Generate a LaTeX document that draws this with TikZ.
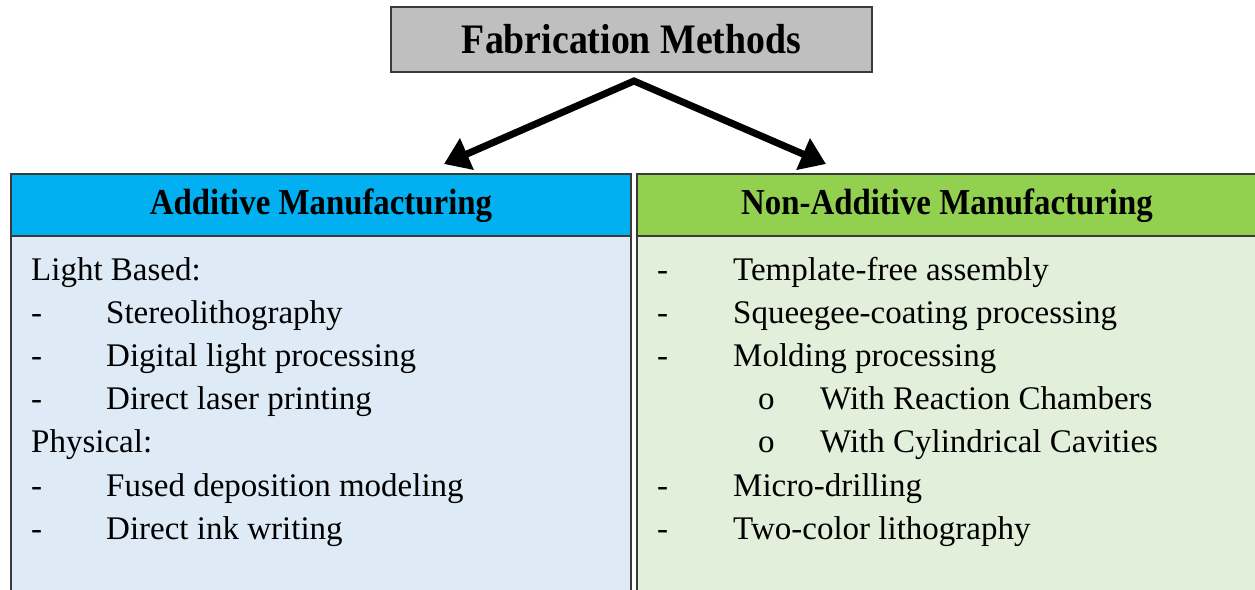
\documentclass[tikz,border=0pt]{standalone}
\usepackage{fontspec}
\setmainfont{Liberation Serif}
\newfontfamily\condserif[FakeStretch=0.9]{Liberation Serif}
\usetikzlibrary{arrows.meta}
\definecolor{topgray}{HTML}{BFBFBF}
\definecolor{hblue}{HTML}{00B0F0}
\definecolor{bblue}{HTML}{DEEAF6}
\definecolor{hgreen}{HTML}{92D050}
\definecolor{bgreen}{HTML}{E2EFDA}
\definecolor{edge}{HTML}{3A3A3A}
\tikzset{
  boxline/.style={draw=edge, line width=1.2pt},
  item/.style={anchor=base west, inner sep=0pt, font=\fontsize{33}{33}\selectfont},
  head/.style={inner sep=0pt, font=\condserif\fontsize{36.5}{36}\selectfont\bfseries},
  bigarrow/.style={line width=7pt, line join=miter, {Triangle[length=25pt,width=33pt]}-{Triangle[length=25pt,width=33pt]}}
}
\begin{document}
\begin{tikzpicture}[x=1pt,y=-1pt]
\useasboundingbox (0,0) rectangle (1255,589);
\clip (0,0) rectangle (1255,589);
% top box
\node[boxline, fill=topgray, minimum width=481pt, minimum height=65pt, inner sep=0pt,
      font=\condserif\fontsize{42}{42}\selectfont\bfseries] (top) at (631.5,39.5) {Fabrication Methods};
% left column
\filldraw[boxline, fill=bblue] (11,236) rectangle (631,620);
\filldraw[boxline, fill=hblue] (11,174) rectangle (631,236);
\node[head] (lh) at (321,206) {Additive Manufacturing};
% right column
\filldraw[boxline, fill=bgreen] (637,236) rectangle (1270,620);
\filldraw[boxline, fill=hgreen] (637,174) rectangle (1270,236);
\node[head] (rh) at (947,206) {Non-Additive Manufacturing};
% arrows
\coordinate (apex) at (634,81);
\coordinate (ltip) at (444,164);
\coordinate (rtip) at (826,164);
\draw[bigarrow] (ltip) -- (apex) -- (rtip);
% left items
\node[item] (l1) at (31,280) {Light Based:};
\node[item] (l2d) at (31,323) {-};
\node[item] (l2) at (106,323) {Stereolithography};
\node[item] (l3d) at (31,366) {-};
\node[item] (l3) at (106,366) {Digital light processing};
\node[item] (l4d) at (31,409) {-};
\node[item] (l4) at (106,409) {Direct laser printing};
\node[item] (l5) at (31,452) {Physical:};
\node[item] (l6d) at (31,496) {-};
\node[item] (l6) at (106,496) {Fused deposition modeling};
\node[item] (l7d) at (31,539) {-};
\node[item] (l7) at (106,539) {Direct ink writing};
% right items
\node[item] (r1d) at (657,280) {-};
\node[item] (r1) at (733,280) {Template-free assembly};
\node[item] (r2d) at (657,323) {-};
\node[item] (r2) at (733,323) {Squeegee-coating processing};
\node[item] (r3d) at (657,366) {-};
\node[item] (r3) at (733,366) {Molding processing};
\node[item] (r4d) at (758,409) {o};
\node[item] (r4) at (820,409) {With Reaction Chambers};
\node[item] (r5d) at (758,452) {o};
\node[item] (r5) at (820,452) {With Cylindrical Cavities};
\node[item] (r6d) at (657,496) {-};
\node[item] (r6) at (733,496) {Micro-drilling};
\node[item] (r7d) at (657,539) {-};
\node[item] (r7) at (733,539) {Two-color lithography};
\end{tikzpicture}
\end{document}
